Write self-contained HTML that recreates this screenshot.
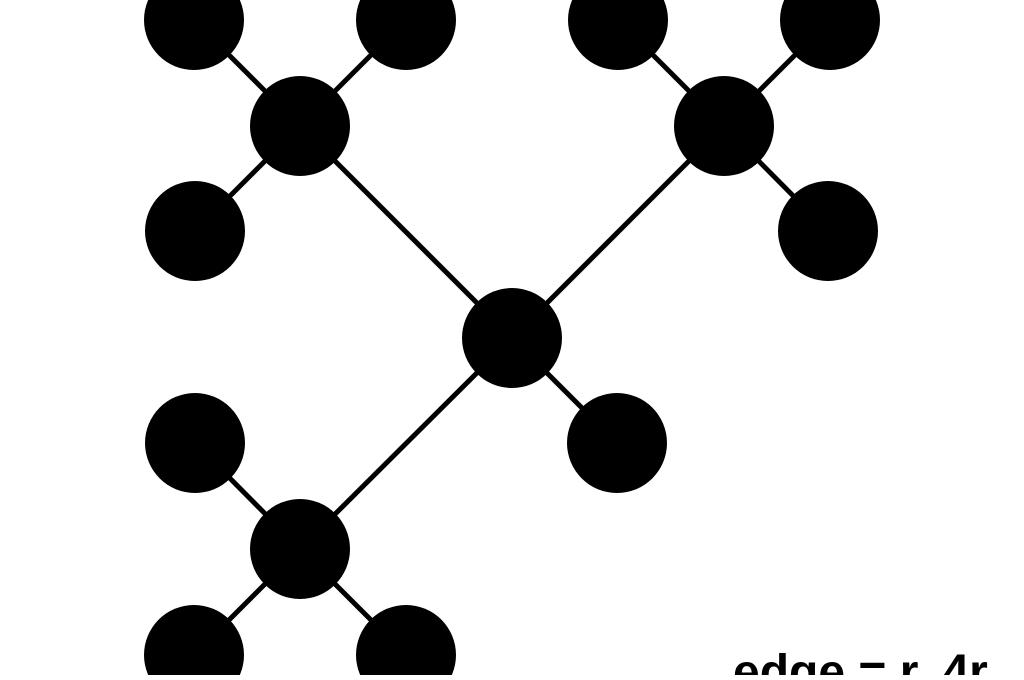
<!DOCTYPE html>
<html><head><style>html,body{margin:0;padding:0;background:#fff;overflow:hidden}</style></head>
<body>
<svg width="1024" height="675" viewBox="0 0 1024 675" xmlns="http://www.w3.org/2000/svg">
<g stroke="#000" stroke-width="5">
<line x1="512" y1="338" x2="300" y2="126"/>
<line x1="512" y1="338" x2="724" y2="126"/>
<line x1="512" y1="338" x2="300" y2="549"/>
<line x1="512" y1="338" x2="617" y2="443"/>
<line x1="300" y1="126" x2="194" y2="20"/>
<line x1="300" y1="126" x2="406" y2="20"/>
<line x1="300" y1="126" x2="195" y2="231"/>
<line x1="724" y1="126" x2="618" y2="20"/>
<line x1="724" y1="126" x2="830" y2="20"/>
<line x1="724" y1="126" x2="828" y2="231"/>
<line x1="300" y1="549" x2="195" y2="443"/>
<line x1="300" y1="549" x2="194" y2="655"/>
<line x1="300" y1="549" x2="406" y2="655"/>
</g>
<g fill="#000">
<circle cx="512" cy="338" r="50"/>
<circle cx="300" cy="126" r="50"/>
<circle cx="724" cy="126" r="50"/>
<circle cx="300" cy="549" r="50"/>
<circle cx="617" cy="443" r="50"/>
<circle cx="194" cy="20" r="50"/>
<circle cx="406" cy="20" r="50"/>
<circle cx="195" cy="231" r="50"/>
<circle cx="618" cy="20" r="50"/>
<circle cx="830" cy="20" r="50"/>
<circle cx="828" cy="231" r="50"/>
<circle cx="195" cy="443" r="50"/>
<circle cx="194" cy="655" r="50"/>
<circle cx="406" cy="655" r="50"/>
</g>
<text x="733" y="688" font-family="Liberation Sans, sans-serif" font-weight="bold" font-size="48" fill="#000">edge = r, 4r</text>
</svg>
</body></html>
